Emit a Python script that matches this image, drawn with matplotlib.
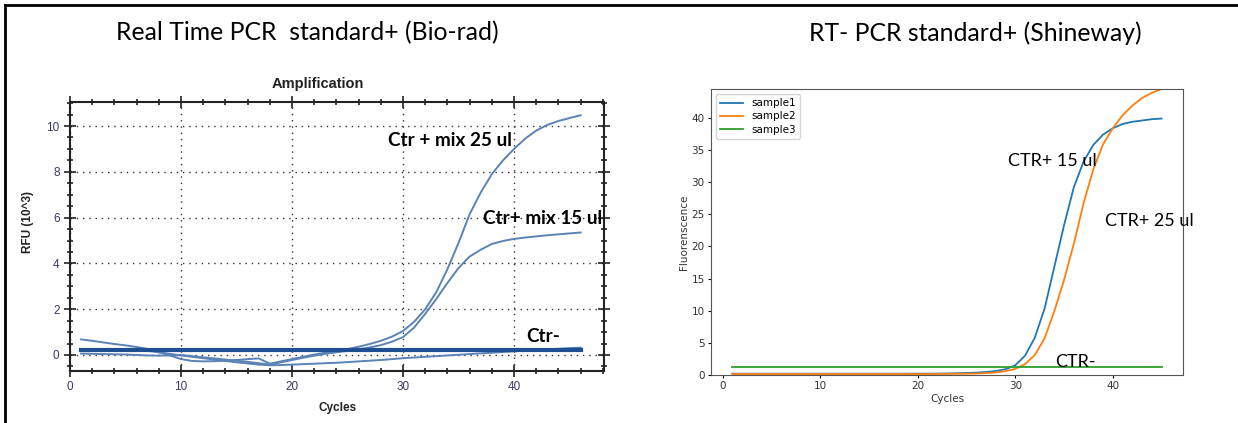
import matplotlib
matplotlib.use("Agg")
import matplotlib.pyplot as plt
from matplotlib.ticker import MultipleLocator
from matplotlib.lines import Line2D

# ---- Bio-rad panel (RFU x 10^3) ----
cycles_l = list(range(1, 47))
ctr25 = [0.68, 0.62, 0.55, 0.48, 0.42, 0.35, 0.26, 0.12, -0.02, -0.18,
         -0.26, -0.28, -0.27, -0.25, -0.22, -0.18, -0.15, -0.38, -0.28, -0.18,
         -0.08, 0.02, 0.10, 0.18, 0.26, 0.36, 0.48, 0.62, 0.80, 1.05,
         1.45, 2.00, 2.75, 3.75, 4.90, 6.15, 7.10, 7.90, 8.50, 9.00,
         9.45, 9.80, 10.05, 10.22, 10.35, 10.47]
ctr15 = [0.06, 0.05, 0.04, 0.03, 0.02, 0.00, -0.02, -0.03, -0.02, 0.00,
         -0.05, -0.10, -0.15, -0.20, -0.25, -0.30, -0.36, -0.42, -0.32, -0.22,
         -0.12, -0.03, 0.05, 0.12, 0.18, 0.25, 0.33, 0.43, 0.58, 0.78,
         1.20, 1.80, 2.45, 3.15, 3.80, 4.30, 4.60, 4.85, 4.98, 5.07,
         5.13, 5.18, 5.23, 5.27, 5.31, 5.35]
ctr_neg = [0.22, 0.22, 0.21, 0.21, 0.20, 0.20, 0.18, 0.12, 0.05, -0.02,
           -0.08, -0.14, -0.20, -0.26, -0.32, -0.37, -0.42, -0.45, -0.44, -0.42,
           -0.40, -0.38, -0.36, -0.34, -0.31, -0.28, -0.25, -0.22, -0.18, -0.14,
           -0.11, -0.08, -0.05, -0.02, 0.01, 0.04, 0.07, 0.10, 0.13, 0.16,
           0.19, 0.22, 0.25, 0.27, 0.30, 0.32]
thr_x = [1, 46]
thr_y = [0.2, 0.2]

# ---- Shineway panel ----
cycles_r = list(range(1, 46))
sample1 = [0.20, 0.20, 0.20, 0.20, 0.20, 0.20, 0.20, 0.20, 0.20, 0.20,
           0.20, 0.20, 0.20, 0.20, 0.20, 0.20, 0.20, 0.20, 0.20, 0.21,
           0.21, 0.22, 0.24, 0.27, 0.31, 0.37, 0.46, 0.62, 0.90, 1.50,
           3.00, 5.80, 10.3, 16.8, 23.3, 29.2, 33.2, 35.8, 37.4, 38.4,
           39.05, 39.4, 39.6, 39.8, 39.9]
sample2 = [0.15, 0.15, 0.15, 0.15, 0.15, 0.15, 0.15, 0.15, 0.15, 0.15,
           0.15, 0.15, 0.15, 0.15, 0.15, 0.15, 0.15, 0.15, 0.15, 0.15,
           0.16, 0.16, 0.17, 0.18, 0.20, 0.22, 0.30, 0.40, 0.60, 0.95,
           1.70, 3.10, 5.70, 9.90, 14.8, 20.4, 26.7, 32.0, 35.9, 38.4,
           40.4, 41.9, 43.1, 43.9, 44.5]
sample3 = [1.2, 1.2, 1.2, 1.2, 1.2, 1.2, 1.2, 1.2, 1.2, 1.2,
           1.2, 1.2, 1.2, 1.2, 1.2, 1.2, 1.2, 1.2, 1.2, 1.2,
           1.2, 1.2, 1.2, 1.2, 1.2, 1.2, 1.2, 1.2, 1.2, 1.2,
           1.2, 1.2, 1.2, 1.2, 1.2, 1.2, 1.2, 1.2, 1.2, 1.2,
           1.2, 1.2, 1.2, 1.2, 1.2]
labels_r = ["sample1", "sample2", "sample3"]

CAL = ["Lato", "DejaVu Sans"]
ARIAL = ["Liberation Sans", "DejaVu Sans"]

fig = plt.figure(figsize=(12.38, 4.23), dpi=100)

# frame around the slide
fig.add_artist(Line2D([0.004, 0.004], [0, 0.988], color="black", lw=2))
fig.add_artist(Line2D([0.004, 1.0], [0.988, 0.988], color="black", lw=2))

fig.text(0.248, 0.922, "Real Time PCR  standard+ (Bio-rad)", family=CAL,
         fontsize=17.8, ha="center", va="center")
fig.text(0.788, 0.922, "RT- PCR standard+ (Shineway)", family=CAL,
         fontsize=17.8, ha="center", va="center")

# left panel
ax1 = fig.add_axes([0.0565, 0.1229, 0.4314, 0.636])
line_c = "#5b83b5"
ax1.plot(cycles_l, ctr_neg, color=line_c, lw=1.4)
ax1.plot(cycles_l, ctr15, color=line_c, lw=1.4)
ax1.plot(cycles_l, ctr25, color=line_c, lw=1.4)
ax1.plot(thr_x, thr_y, color="#1d4f91", lw=3)
ax1.set_xlim(0, 48.1)
ax1.set_ylim(-0.7, 11.05)
ax1.xaxis.set_major_locator(MultipleLocator(10))
ax1.xaxis.set_minor_locator(MultipleLocator(2))
ax1.yaxis.set_major_locator(MultipleLocator(2))
ax1.yaxis.set_minor_locator(MultipleLocator(0.5))
ax1.tick_params(which="both", direction="inout", top=True, right=True,
                labelsize=8.5, labelcolor="#3a3a66", color="#222222", width=1.2)
ax1.tick_params(which="major", length=8)
ax1.tick_params(which="minor", length=5)
for t in ax1.get_xticklabels() + ax1.get_yticklabels():
    t.set_family(ARIAL)
for s in ax1.spines.values():
    s.set_linewidth(1.5)
    s.set_color("#222222")
ax1.grid(True, which="major", color="#333333", linestyle=(0, (1, 3.5)), lw=1)
fig.text(0.257, 0.801, "Amplification", family=ARIAL, weight="bold",
         fontsize=10.5, ha="center", va="center", color="#222222")
fig.text(0.0226, 0.475, "RFU (10^3)", family=ARIAL, weight="bold", fontsize=8.5,
         rotation=90, ha="center", va="center", color="#222222")
fig.text(0.273, 0.035, "Cycles", family=ARIAL, weight="bold", fontsize=8.5,
         ha="center", va="center", color="#222222")
ax1.text(28.6, 9.38, "Ctr + mix 25 ul", family=CAL, weight="bold", fontsize=13.6,
         ha="left", va="center")
ax1.text(37.2, 5.98, "Ctr+ mix 15 ul", family=CAL, weight="bold", fontsize=13.6,
         ha="left", va="center")
ax1.text(41.1, 0.82, "Ctr-", family=CAL, weight="bold", fontsize=13.6,
         ha="left", va="center")

# right panel
ax2 = fig.add_axes([0.5743, 0.1135, 0.3813, 0.6761])
ax2.plot(cycles_r, sample1, color="#1f77b4", lw=1.3, label=labels_r[0])
ax2.plot(cycles_r, sample2, color="#ff7f0e", lw=1.3, label=labels_r[1])
ax2.plot(cycles_r, sample3, color="#2ca02c", lw=1.3, label=labels_r[2])
ax2.set_ylim(0, max(sample2))
ax2.set_xlabel("Cycles", fontsize=7.5, color="#333333", labelpad=2)
ax2.set_ylabel("Fluorenscence", fontsize=7.5, color="#333333", labelpad=2)
ax2.tick_params(labelsize=7.5, labelcolor="#333333", length=2.5, pad=2)
for s in ax2.spines.values():
    s.set_color("#555555")
ax2.legend(loc="upper left", fontsize=7.5, handlelength=2.2, borderpad=0.4,
           labelspacing=0.3)
ax2.text(29.3, 33.3, "CTR+ 15 ul", family=CAL, fontsize=13, ha="left", va="center")
ax2.text(39.2, 24.0, "CTR+ 25 ul", family=CAL, fontsize=13, ha="left", va="center")
ax2.text(34.1, 2.06, "CTR-", family=CAL, fontsize=13, ha="left", va="center")

fig.savefig("out.png", dpi=100)
